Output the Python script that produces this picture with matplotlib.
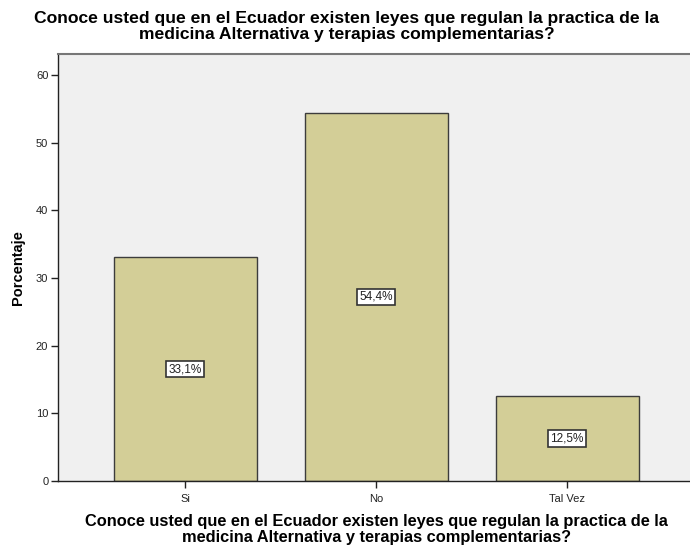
import matplotlib
matplotlib.use("Agg")
import matplotlib.pyplot as plt

categories = ["Si", "No", "Tal Vez"]
values = [33.1, 54.4, 12.5]
labels = ["33,1%", "54,4%", "12,5%"]
title = "Conoce usted que en el Ecuador existen leyes que regulan la practica de la\nmedicina Alternativa y terapias complementarias?"

plt.rcParams['font.family'] = ['Liberation Sans', 'DejaVu Sans']

fig = plt.figure(figsize=(6.9, 5.46), dpi=100)
ax = fig.add_axes([58/690, 65/546, (694.5-58)/690, (481-54)/546])
ax.set_facecolor('#f0f0f0')

x = range(len(categories))
ax.bar(x, values, width=0.75, color='#d3ce97', edgecolor='#3c3c3c', linewidth=1.0, zorder=2)
for xi, v, lab in zip(x, values, labels):
    ax.text(xi, v/2, lab, ha='center', va='center', fontsize=8.5, color='#222222', zorder=3,
            bbox=dict(boxstyle='square,pad=0.2', facecolor='white', edgecolor='#333333', linewidth=1.2))

ax.set_xlim(-0.667, 2.667)
ax.set_ylim(0, 63.1)
ax.set_yticks([0, 10, 20, 30, 40, 50, 60])
ax.set_xticks(list(x))
ax.set_xticklabels(categories)
ax.tick_params(axis='both', direction='out', length=5, width=1, labelsize=8, colors='#222222', pad=2)
ax.tick_params(axis='x', pad=4)

for s in ['left', 'bottom']:
    ax.spines[s].set_color('#222222')
    ax.spines[s].set_linewidth(1.0)
ax.spines['top'].set_color('#777777')
ax.spines['top'].set_linewidth(1.5)
ax.spines['right'].set_visible(False)

ax.set_ylabel('Porcentaje', fontsize=10.5, fontweight='bold', labelpad=8)
fig.text(376.5/690, 1 - 514/546, title, ha='center', va='top', fontsize=11.8,
         fontweight='bold', linespacing=1.05)
fig.text(347/690, 1 - 11/546, title, ha='center', va='top', fontsize=12.6,
         fontweight='bold', linespacing=1.05)

fig.savefig('out.png', dpi=100)
